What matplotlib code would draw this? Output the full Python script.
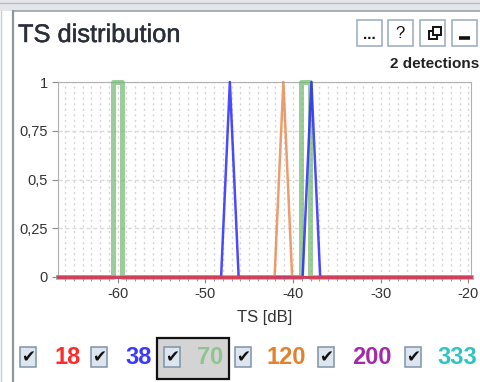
import matplotlib

matplotlib.use("Agg")
import matplotlib.pyplot as plt
import matplotlib.patheffects as pe
from matplotlib.patches import Rectangle
from matplotlib.ticker import FuncFormatter, MultipleLocator

plt.rcParams["font.family"] = ["Liberation Sans", "DejaVu Sans"]
plt.rcParams["axes.unicode_minus"] = False

# TS histogram traces per frequency (kHz), normalised counts
TS_MIN, TS_MAX = -66.8, -19.7
ts_18 = [TS_MIN, TS_MAX]
n_18 = [0, 0]
ts_38 = [TS_MIN, -48.2, -47.2, -46.2, -38.9, -37.9, -36.9, TS_MAX]
n_38 = [0, 0, 1, 0, 0, 1, 0, 0]
ts_70 = [TS_MIN, -60.55, -60.55, -59.45, -59.45, -39.1, -39.1, -38.1, -38.1, TS_MAX]
n_70 = [0, 0, 1, 1, 0, 0, 1, 1, 0, 0]
ts_120 = [TS_MIN, -42.1, -41.1, -40.1, TS_MAX]
n_120 = [0, 0, 1, 0, 0]

freqs = ["18", "38", "70", "120", "200", "333"]
freq_colors = ["#ff2a2a", "#3a3aff", "#8fc48f", "#e0822e", "#a22aa8", "#2ec4c4"]
y_ticks = [0, 0.25, 0.5, 0.75, 1]
x_ticks = [-60, -50, -40, -30, -20]
n_detections = 2

W, H = 480, 382
fig = plt.figure(figsize=(W / 100, H / 100), dpi=100)

# panel chrome drawn in pixel space
ui = fig.add_axes([0, 0, 1, 1])
ui.set_xlim(0, W)
ui.set_ylim(H, 0)
ui.axis("off")
ui.add_patch(Rectangle((0, 0), W, 11, color="#e4e6e9", lw=0))
ui.plot([0, W], [3, 3], color="#b4bcc6", lw=1)
ui.plot([13, W], [11, 11], color="#9aa4ae", lw=1.2)
ui.plot([13, 13], [11, H], color="#8a96a4", lw=1.6)
ui.plot([1, 1], [11, H], color="#c8ccd0", lw=1)

ui.text(18, 35, "TS distribution", fontsize=18.3, color="#2a2f3a", va="center", ha="left",
        path_effects=[pe.withStroke(linewidth=0.35, foreground="#2a2f3a")])
ui.text(479, 64, f"{n_detections} detections", fontsize=11, fontweight="bold",
        color="#222222", va="center", ha="right")

# window buttons
for bx in (357, 388, 420, 452):
    ui.add_patch(Rectangle((bx, 20), 25, 26, facecolor="white", edgecolor="#9fb0c2", lw=1.2))
ui.text(369.5, 35, "...", fontsize=11, fontweight="bold", ha="center", va="center", color="#111")
ui.text(400.5, 33, "?", fontsize=12, ha="center", va="center", color="#111")
ui.add_patch(Rectangle((429, 31), 8, 8, facecolor="none", edgecolor="#111", lw=1.4))
ui.add_patch(Rectangle((433, 27), 8, 8, facecolor="white", edgecolor="#111", lw=1.4))
ui.plot([459, 470], [38, 38], color="#111", lw=2.6, solid_capstyle="butt")

# frequency toggles
ui.add_patch(Rectangle((157, 338), 72, 41, facecolor="#d4d4d4", edgecolor="#111111", lw=1.6))
box_x = [20, 91, 164, 235, 318, 405]
lab_x = [55, 125, 197, 267, 352, 437]
for bx, lx, f, c in zip(box_x, lab_x, freqs, freq_colors):
    ui.add_patch(Rectangle((bx, 347), 16, 20, facecolor="#dde6ef", edgecolor="#7f93a8", lw=1.1))
    ui.text(bx + 8, 357.5, "\u2714", fontsize=12, ha="center", va="center",
            color="#111", family=["DejaVu Sans"])
    ui.text(lx, 357, f, fontsize=17, fontweight="bold", color=c, ha="left", va="center")

# histogram axes
ax = fig.add_axes([58 / W, 1 - 277 / H, (471 - 58) / W, (277 - 82) / H])
ax.set_xlim(TS_MIN, TS_MAX)
ax.set_ylim(0, 1)
ax.plot(ts_70, n_70, color="#6fb86f", lw=3.6, alpha=0.7, clip_on=False, zorder=3)
ax.plot(ts_38, n_38, color="#2a2aff", lw=1.8, alpha=0.85, clip_on=False, zorder=4)
ax.plot(ts_120, n_120, color="#e8844a", lw=1.8, alpha=0.8, clip_on=False, zorder=4)
ax.plot(ts_18, n_18, color="#d43a5a", lw=2.0, clip_on=False, zorder=5)

ax.set_xticks(x_ticks)
ax.set_yticks(y_ticks)
ax.xaxis.set_minor_locator(MultipleLocator(1))
ax.yaxis.set_major_formatter(FuncFormatter(lambda v, _: f"{v:g}".replace(".", ",")))
ax.grid(which="minor", axis="x", color="#d4d4d4", lw=1, ls=(0, (1.5, 2.5)))
ax.grid(which="major", axis="x", color="#d4d4d4", lw=1, ls=(0, (1.5, 2.5)))
ax.grid(which="major", axis="y", color="#dadada", lw=1, ls=(0, (3, 2)))
ax.tick_params(which="both", colors="#888888", labelcolor="#333333", labelsize=10.5,
               direction="out")
ax.tick_params(which="major", length=4)
ax.tick_params(which="minor", length=3)
for side in ("left", "top", "right", "bottom"):
    ax.spines[side].set_color("#b0b0b0")
ax.set_xlabel("TS [dB]", fontsize=12, color="#333333", labelpad=6)

fig.savefig("out.png", dpi=100)
